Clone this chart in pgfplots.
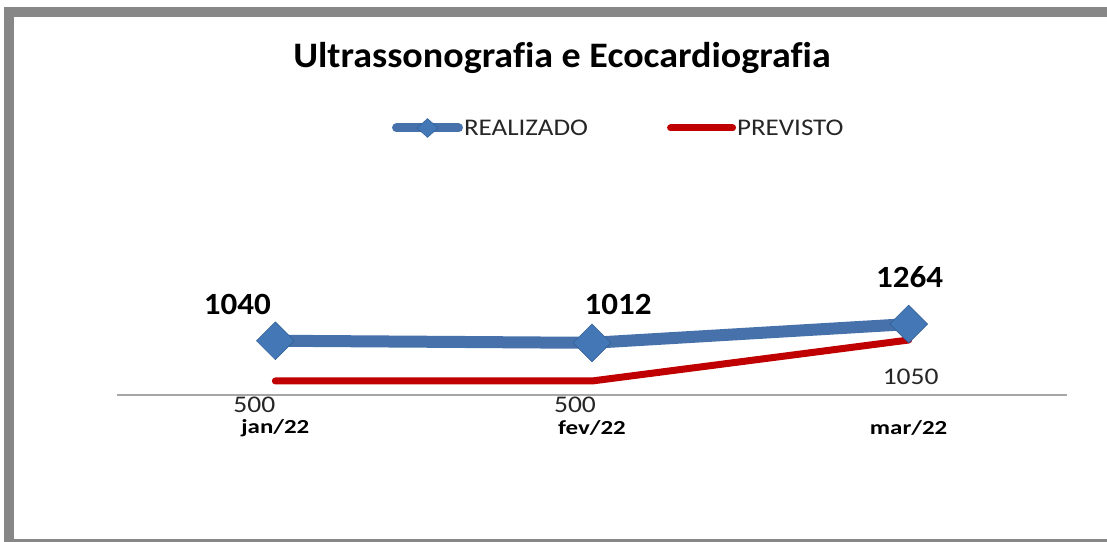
\documentclass[border=0pt]{standalone}
\usepackage{fontspec}
\usepackage{pgfplots}
\pgfplotsset{compat=1.18}
\setmainfont{Carlito}[Ligatures=NoCommon]
\newfontfamily\fTitle[FakeStretch=1.06, Ligatures=NoCommon]{Carlito}
\newfontfamily\fData[FakeStretch=1.07]{Carlito}
\newfontfamily\fTick[FakeStretch=1.25]{Carlito}
\newfontfamily\fRed[FakeStretch=1.15]{Carlito}
\newfontfamily\fLeg[FakeStretch=1.13]{Carlito}
\definecolor{frame}{HTML}{878787}
\definecolor{realiz}{HTML}{4671AA}
\definecolor{dfill}{HTML}{4477B6}
\definecolor{ddraw}{HTML}{2F5D94}
\definecolor{prev}{HTML}{C00000}
\definecolor{axgray}{HTML}{A6A6A6}
\definecolor{txt}{HTML}{262626}
\begin{document}
\begin{tikzpicture}
\path[use as bounding box] (0bp,0bp) rectangle (1107bp,542bp);
\fill[white] (0bp,0bp) rectangle (1107bp,542bp);
\fill[frame] (4bp,0bp) rectangle (14bp,535bp);
\fill[frame] (4bp,525bp) rectangle (1107bp,535bp);
\fill[frame] (4bp,0.5bp) rectangle (1107bp,2.5bp);
\node[font=\fTitle\bfseries\fontsize{36}{40}\selectfont, anchor=base, inner sep=0pt] at (562bp,474bp) {Ultrassonografia e Ecocardiografia};
\begin{axis}[
  at={(117bp,147bp)}, anchor=south west,
  scale only axis, width=950bp, height=245bp,
  xmin=0, xmax=3, ymin=312, ymax=3600,
  axis x line*=bottom, axis y line=none,
  x axis line style={axgray, line width=1.2bp},
  xtick={0.5,1.5,2.5}, xticklabels={jan/22,fev/22,mar/22},
  major tick length=0pt,
  xticklabel style={font=\fTick\bfseries\fontsize{20}{24}\selectfont, anchor=center, yshift=-33bp, inner sep=0pt, text=black},
  clip=false,
  legend columns=2,
  legend style={at={(0.2895,1.0898)}, anchor=west, draw=none, fill=none, inner sep=0pt, outer sep=0pt,
    font=\fLeg\fontsize{24}{28}\selectfont, text=txt,
    nodes={inner sep=1bp},
    /tikz/every even column/.append style={column sep=78bp}},
]
\addplot[color=realiz, line width=12bp, line join=round,
  mark=square*, mark size=13.4bp,
  mark options={rotate=45, fill=dfill, draw=ddraw, line width=0.5bp, solid},
  legend image code/.code={
    \draw[realiz, line width=9bp, line cap=round] (0bp,0bp) -- (62bp,0bp);
    \filldraw[fill=dfill, draw=ddraw, line width=0.4bp] (31bp,-9.5bp) -- (41.5bp,0bp) -- (31bp,9.5bp) -- (20.5bp,0bp) -- cycle;}
] coordinates {(0.5,1040) (1.5,1012) (2.5,1264)};
\addlegendentry{REALIZADO}
\addplot[color=prev, line width=7bp, line cap=round, line join=round,
  legend image code/.code={
    \draw[prev, line width=7bp, line cap=round] (0bp,0bp) -- (62bp,0bp);}
] coordinates {(0.5,500) (1.5,500) (2.5,1050)};
\addlegendentry{PREVISTO}
\node[font=\fData\bfseries\fontsize{31}{36}\selectfont, inner sep=0pt, xshift=-38bp, yshift=36.7bp] at (axis cs:0.5,1040) {1040};
\node[font=\fData\bfseries\fontsize{31}{36}\selectfont, inner sep=0pt, xshift=26bp, yshift=38.8bp] at (axis cs:1.5,1012) {1012};
\node[font=\fData\bfseries\fontsize{31}{36}\selectfont, inner sep=0pt, xshift=1bp, yshift=47bp] at (axis cs:2.5,1264) {1264};
\node[font=\fRed\fontsize{24}{28}\selectfont, text=txt, inner sep=0pt, xshift=-21bp, yshift=-24bp] at (axis cs:0.5,500) {500};
\node[font=\fRed\fontsize{24}{28}\selectfont, text=txt, inner sep=0pt, xshift=-17bp, yshift=-24bp] at (axis cs:1.5,500) {500};
\node[font=\fRed\fontsize{24}{28}\selectfont, text=txt, inner sep=0pt, xshift=2bp, yshift=-37bp] at (axis cs:2.5,1050) {1050};
\end{axis}
\end{tikzpicture}
\end{document}
